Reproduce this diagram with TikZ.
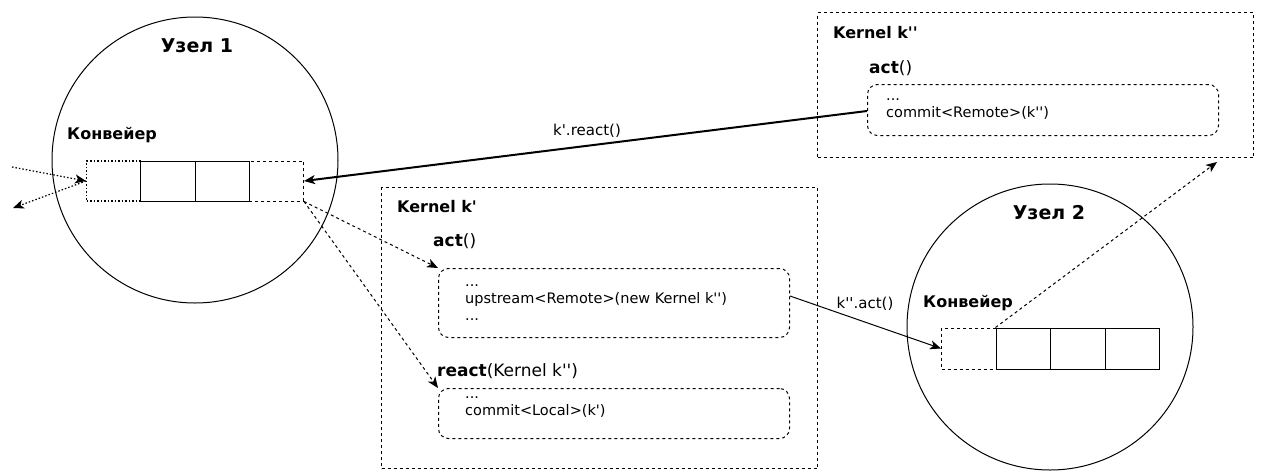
\documentclass[tikz,border=0pt]{standalone}
\usepackage{fontspec}
\setmainfont{DejaVu Sans}[Ligatures=TeXOff]
\usetikzlibrary{arrows.meta,calc}
\newcommand\myfs[1]{\fontsize{#1}{#1}\selectfont}
\tikzset{
  tx/.style={inner sep=0pt, anchor=base west},
  cell/.style={draw, line width=1pt, minimum width=54.25pt, minimum height=40pt, inner sep=0pt},
  kbox/.style={draw, line width=1pt, dash pattern=on 3pt off 3pt, inner sep=0pt, anchor=north west},
  cbox/.style={draw, line width=1pt, dash pattern=on 3pt off 3pt, rounded corners=10pt, inner sep=0pt, anchor=north west},
  node1/.style={draw, circle, line width=1pt, minimum size=286pt, inner sep=0pt},
  arr/.style={-{Stealth[length=11pt,width=9pt,inset=3pt]}},
  dotline/.style={dash pattern=on 1.5pt off 2pt, line width=1.2pt},
  dashline/.style={dash pattern=on 3pt off 3pt, line width=1pt},
}
\begin{document}
\begin{tikzpicture}[x=1pt,y=-1pt]
\useasboundingbox (0,0) rectangle (1262,472);

% nodes (circles)
\node[node1] (n1) at (195,160) {};
\node[node1] (n2) at (1050,327) {};
\node[tx, anchor=base] (n1l) at (197,52) {\myfs{19}\bfseries Узел 1};
\node[tx, anchor=base] (n2l) at (1049,219) {\myfs{19}\bfseries Узел 2};
\node[tx] (c1l) at (67,139) {\myfs{16}\bfseries Конвейер};
\node[tx] (c2l) at (923,307) {\myfs{16}\bfseries Конвейер};

% pipeline 1
\node[cell, dotline, anchor=west] (p1a) at (86,181) {};
\node[cell, dashline, anchor=west] (p1d) at (248.75,181) {};
\node[cell, anchor=west] (p1b) at (140.25,181) {};
\node[cell, anchor=west] (p1c) at (194.5,181) {};

% pipeline 2
\node[cell, dashline, minimum width=54.5pt, minimum height=41pt, anchor=west] (p2a) at (941,348.5) {};
\node[cell, minimum width=54.5pt, minimum height=41pt, anchor=west] (p2b) at (995.5,348.5) {};
\node[cell, minimum width=54.5pt, minimum height=41pt, anchor=west] (p2c) at (1050,348.5) {};
\node[cell, minimum width=54.5pt, minimum height=41pt, anchor=west] (p2d) at (1104.5,348.5) {};

% Kernel k'
\node[kbox, minimum width=436pt, minimum height=281pt] (kp) at (381,187) {};
\node[tx] (kpl) at (397,212) {\myfs{16}\bfseries Kernel k'};
\node[tx] (kpact) at (433,246) {\myfs{17}\textbf{act}()};
\node[cbox, minimum width=351pt, minimum height=69pt] (b1) at (438,268) {};
\node[tx] (b1a) at (465,286) {\myfs{14.5}...};
\node[tx] (b1b) at (465,303) {\myfs{14.5}upstream<Remote>(new Kernel k'')};
\node[tx] (b1c) at (465,320) {\myfs{14.5}...};
\node[tx] (kpreact) at (437,376) {\myfs{17}\textbf{react}(Kernel k'')};
\node[cbox, minimum width=351pt, minimum height=50pt] (b2) at (438,388) {};
\node[tx] (b2a) at (465,398) {\myfs{14.5}...};
\node[tx] (b2b) at (465,415) {\myfs{14.5}commit<Local>(k')};

% Kernel k''
\node[kbox, minimum width=436pt, minimum height=145pt] (kpp) at (817,12) {};
\node[tx] (kppl) at (833,38) {\myfs{16}\bfseries Kernel k''};
\node[tx] (kppact) at (869,73) {\myfs{17}\textbf{act}()};
\node[cbox, minimum width=351pt, minimum height=51pt] (b3) at (867,84) {};
\node[tx] (b3a) at (886,100) {\myfs{14.5}...};
\node[tx] (b3b) at (886,117) {\myfs{14.5}commit<Remote>(k'')};

% free ends
\coordinate (in1) at (12,167);
\coordinate (out1) at (13,208);
\coordinate (up2) at (1217,162);

% connectors
\draw[arr, line width=2pt] ([yshift=-1pt]b3.west) -- (p1d.east);
\node[tx, anchor=base] (rlab) at (587,135) {\myfs{15}k'.react()};
\draw[arr, line width=1pt] ([yshift=7pt]b1.east) -- (p2a.west);
\node[tx, anchor=base] (alab) at (865,308) {\myfs{15}k''.act()};
\draw[arr, dashline] (p1d.south east) -- (b1.north west);
\draw[arr, dashline] (p1d.south east) -- (b2.north west);
\draw[arr, dashline] (p2b.north west) -- (up2);
\draw[arr, dotline] (in1) -- (p1a.west);
\draw[arr, dotline] (p1a.west) -- (out1);
\end{tikzpicture}
\end{document}
